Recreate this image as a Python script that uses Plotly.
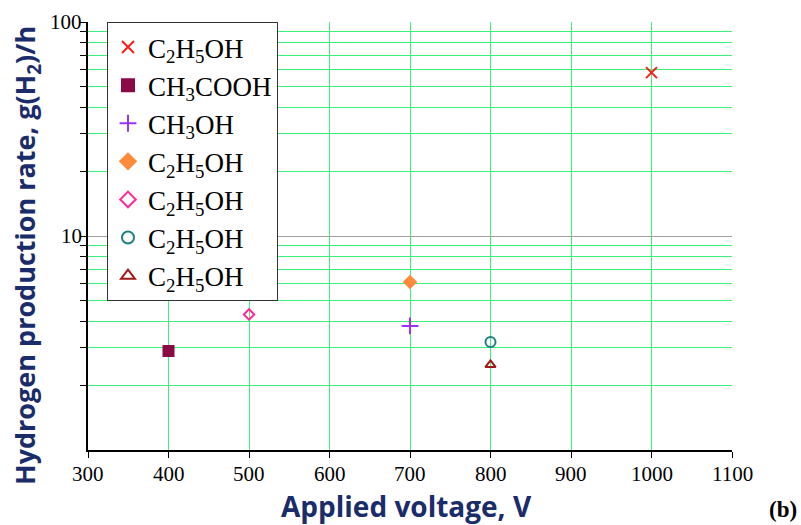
import math
import plotly.graph_objects as go

names = ["C<sub>2</sub>H<sub>5</sub>OH", "CH<sub>3</sub>COOH", "CH<sub>3</sub>OH",
         "C<sub>2</sub>H<sub>5</sub>OH", "C<sub>2</sub>H<sub>5</sub>OH",
         "C<sub>2</sub>H<sub>5</sub>OH", "C<sub>2</sub>H<sub>5</sub>OH"]
voltage = [1000, 400, 700, 700, 500, 800, 800]
rate = [58, 2.9, 3.8, 6.1, 4.3, 3.2, 2.5]
symbols = ["x-thin", "square", "cross-thin", "diamond", "diamond-open", "circle-open", "triangle-up-open"]
colors = ["#ff1a1a", "#8b0a45", "#9a33ff", "#ff8a3a", "#ff2a9a", "#1f8080", "#a01818"]
sizes = [11, 10, 12, 9, 8, 10, 9]

x_ticks = list(range(300, 1101, 100))
x_labels = [str(v) for v in x_ticks]
y_major = [10, 100]
y_labels = ["10", "100"]
y_minor = [2, 3, 4, 5, 6, 7, 8, 9, 20, 30, 40, 50, 60, 70, 80, 90]

fig = go.Figure()
for i in range(len(names)):
    fig.add_trace(go.Scatter(
        x=[voltage[i]], y=[rate[i]], mode="markers", name=names[i],
        legendgroup=f"g{i}",
        marker=dict(symbol=symbols[i], color=colors[i], size=sizes[i],
                    line=dict(color=colors[i], width=2)),
    ))

navy = "#1b2c6b"
serif = "Liberation Serif"
tickf = dict(family=serif, size=21, color="black")
fig.update_layout(
    template="none",
    width=801, height=525,
    margin=dict(l=88, r=69, t=22, b=75),
    paper_bgcolor="white", plot_bgcolor="white",
    font=dict(family=serif, color="black", size=21),
    showlegend=True,
    legend=dict(x=0.0295, y=1.0, xanchor="left", yanchor="top",
                bgcolor="white", bordercolor="#333333", borderwidth=1,
                font=dict(family=serif, size=27, color="black"),
                tracegroupgap=0, itemsizing="constant"),
)
fig.update_xaxes(range=[300, 1100], tickmode="array", tickvals=x_ticks,
                 showticklabels=False,
                 ticks="outside", ticklen=6, tickwidth=1,
                 tickcolor="black", showline=True, linecolor="black", linewidth=1.5,
                 showgrid=True, gridcolor="#3cf07a", gridwidth=1.2, zeroline=False)
fig.update_yaxes(type="log", range=[0, 2], tickmode="array", tickvals=y_major,
                 showticklabels=False,
                 ticks="outside", ticklen=6, tickwidth=1, tickcolor="black",
                 showline=True, linecolor="black", linewidth=1.5,
                 showgrid=True, gridcolor="#a0a0a0", gridwidth=1.2, zeroline=False,
                 minor=dict(tickmode="array", tickvals=y_minor, ticks="outside", ticklen=6,
                            tickcolor="black", showgrid=True, gridcolor="#3cf07a", gridwidth=1.2))

# tick labels as text anchored to the axes' own data coordinates
for v, lab in zip(x_ticks, x_labels):
    fig.add_annotation(text=lab, x=v, y=0, xref="x", yref="paper",
                       xanchor="center", yanchor="top", yshift=-10,
                       showarrow=False, font=tickf)
for v, lab in zip(y_major, y_labels):
    fig.add_annotation(text=lab, x=0, y=math.log10(v), xref="paper", yref="y",
                       xanchor="right", yanchor="middle", xshift=-4,
                       showarrow=False, font=tickf)

pw, ph = 801 - 88 - 69, 525 - 22 - 75
def px(x, y):
    return (x - 88) / pw, (525 - 75 - y) / ph

ann = [
    ("Applied voltage, V", 406, 506, 0, dict(family="Open Sans", size=28, color=navy, weight="bold")),
    ("Hydrogen production rate, g(H<sub>2</sub>)/h", 26, 256, -90,
     dict(family="Open Sans", size=27, color=navy, weight="bold")),
    ("(b)", 783, 510, 0, dict(family=serif, size=23, color="black", weight="bold")),
]
for text, x, y, ang, f in ann:
    ax, ay = px(x, y)
    fig.add_annotation(text=text, x=ax, y=ay, xref="paper", yref="paper",
                       xanchor="center", yanchor="middle", textangle=ang,
                       showarrow=False, font=f)

fig.write_html("out.html")
